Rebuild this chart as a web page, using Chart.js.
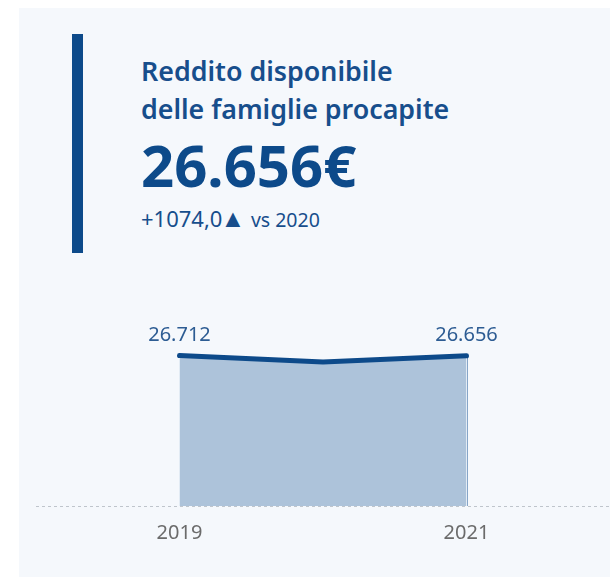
<!DOCTYPE html>
<html>
<head>
<meta charset="utf-8">
<script src="https://cdn.jsdelivr.net/npm/chart.js@4.4.0/dist/chart.umd.min.js"></script>
<style>
  html, body { margin: 0; padding: 0; background: #ffffff; }
  body { width: 610px; height: 577px; position: relative; overflow: hidden; font-family: "Noto Sans", sans-serif; }
  #panel { position: absolute; left: 19px; top: 8px; width: 591px; height: 569px; background: #f5f8fc; }
  #accent { position: absolute; left: 72px; top: 34px; width: 11px; height: 219px; background: #0d4a8a; }
  .txt { position: absolute; left: 141px; white-space: nowrap; color: #174e8c; }
  #title1 { top: 54px; font-size: 26.8px; font-weight: 600; line-height: 34px; }
  #title2 { top: 92px; font-size: 26.8px; font-weight: 600; line-height: 34px; }
  #kpi { top: 129px; font-size: 58px; font-weight: 700; line-height: 72px; color: #0d4a8a; }
  #delta { top: 202px; font-size: 22px; line-height: 30px; }
  #delta .arrow { font-size: 25px; margin-left: -2px; }
  #delta small { font-size: 19.5px; }
  #chartBox { position: absolute; left: 0; top: 280px; width: 610px; height: 297px; }
</style>
</head>
<body>
<div id="panel"></div>
<div id="accent"></div>
<div class="txt" id="title1">Reddito disponibile</div>
<div class="txt" id="title2">delle famiglie procapite</div>
<div class="txt" id="kpi">26.656€</div>
<div class="txt" id="delta">+1074,0<span class="arrow">▲</span> <small>vs 2020</small></div>
<div id="chartBox"><canvas id="chart"></canvas></div>
<script>
// yearly values
const years = [2019, 2020, 2021];
const income = [26712, 25582, 26656];
const labelledYears = [2019, 2021];

// value labels above the first and last point
const valueLabels = {
    id: 'valueLabels',
    afterDatasetsDraw(chart) {
        const { ctx } = chart;
        const meta = chart.getDatasetMeta(0);
        ctx.save();
        ctx.font = '20px "Noto Sans", sans-serif';
        ctx.fillStyle = '#2d5c93';
        ctx.textAlign = 'center';
        ctx.textBaseline = 'alphabetic';
        meta.data.forEach((pt, i) => {
            if (!labelledYears.includes(years[i])) return;
            ctx.fillText(income[i].toLocaleString('it-IT'), pt.x, pt.y - 15);
        });
        ctx.restore();
    }
};

// thin darker edges on the sides of the area, dashed zero line
const areaEdges = {
    id: 'areaEdges',
    beforeDatasetsDraw(chart) {
        const { ctx } = chart;
        const x = chart.scales.x;
        const y = chart.scales.y;
        ctx.save();
        ctx.strokeStyle = '#86a5c8';
        ctx.lineWidth = 1;
        [0, income.length - 1].forEach(i => {
            const px = Math.round(x.getPixelForValue(years[i])) + 0.5;
            ctx.beginPath();
            ctx.moveTo(px, y.getPixelForValue(income[i]));
            ctx.lineTo(px, y.getPixelForValue(0));
            ctx.stroke();
        });
        ctx.restore();
    },
    afterDatasetsDraw(chart) {
        const { ctx, chartArea } = chart;
        const py = Math.round(chart.scales.y.getPixelForValue(0)) + 0.5;
        ctx.save();
        ctx.strokeStyle = '#bfc5cc';
        ctx.lineWidth = 1;
        ctx.setLineDash([3, 3]);
        ctx.beginPath();
        ctx.moveTo(chartArea.left, py);
        ctx.lineTo(chartArea.right, py);
        ctx.stroke();
        ctx.restore();
    }
};

const ctx = document.getElementById('chart').getContext('2d');
new Chart(ctx, {
    type: 'line',
    data: {
        datasets: [{
            data: years.map((yr, i) => ({ x: yr, y: income[i] })),
            borderColor: '#0d4a8a',
            borderWidth: 5,
            borderCapStyle: 'round',
            borderJoinStyle: 'round',
            backgroundColor: '#adc3da',
            fill: 'origin',
            pointRadius: 0,
            tension: 0
        }]
    },
    options: {
        responsive: true,
        maintainAspectRatio: false,
        animation: false,
        layout: { padding: { left: 36, right: 0, top: 57, bottom: 17 } },
        plugins: { legend: { display: false }, tooltip: { enabled: false } },
        scales: {
            x: {
                type: 'linear',
                min: 2018,
                max: 2022,
                afterBuildTicks: scale => { scale.ticks = labelledYears.map(v => ({ value: v })); },
                grid: { display: false, drawTicks: false },
                border: { display: false },
                ticks: {
                    padding: 15,
                    color: '#6b6b6b',
                    font: { family: '"Noto Sans", sans-serif', size: 20 },
                    callback: v => String(v)
                }
            },
            y: {
                display: false,
                min: 0,
                max: 30000
            }
        }
    },
    plugins: [areaEdges, valueLabels]
});
</script>
</body>
</html>
